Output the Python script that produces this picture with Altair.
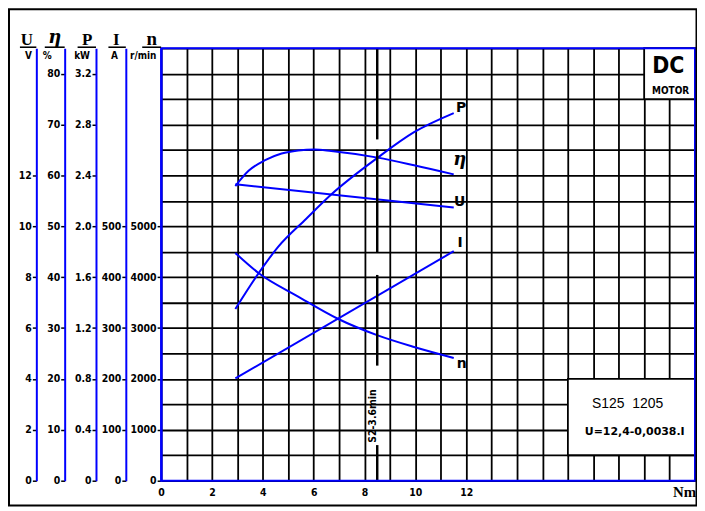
import altair as alt
import pandas as pd

# ---------------- data ----------------
torque_U = [2.92, 11.51]
U_vals = [11.65, 10.74]

torque_I = [2.92, 11.51]
I_vals = [201, 451]

torque_eta = [2.92, 3.44, 4.09, 4.74, 5.39, 6.04, 6.69, 8.52, 9.95, 11.51]
eta_vals = [57.9, 60.9, 63.0, 64.3, 64.9, 65.1, 64.8, 63.5, 62.0, 60.2]

torque_P = [2.92, 3.83, 4.61, 5.71, 6.69, 8.52, 9.95, 11.51]
P_vals = [1.35, 1.63, 1.84, 2.06, 2.25, 2.54, 2.74, 2.89]

torque_n = [2.92, 3.83, 5.39, 6.95, 8.52, 9.95, 11.51]
n_vals = [4475, 4083, 3620, 3183, 2856, 2628, 2413]

# axis ticks / domains
x_max = 21
x_grid = list(range(0, 22))
U_grid = list(range(0, 18))
U_ticks = [0, 2, 4, 6, 8, 10, 12]
eta_ticks = [0, 10, 20, 30, 40, 50, 60, 70, 80]
P_ticks = [0, 0.4, 0.8, 1.2, 1.6, 2.0, 2.4, 2.8, 3.2]
I_ticks = [0, 100, 200, 300, 400, 500]
n_ticks = [0, 1000, 2000, 3000, 4000, 5000]
U_max, eta_max, P_max, I_max, n_max = 17, 85, 3.4, 850, 8500

axis_names = ["U", "η", "P", "I", "n"]
axis_units = ["V", "%", "kW", "A", "r/min"]
x_unit = "Nm"

# S2 duty marker
s2_x = 8.5
s2_seg_top = [8500, 6510, 4044, 700]
s2_seg_bottom = [6708, 4495, 2262, 0]
s2_label = "S2-3.6min"
s2_label_n = 1270

# boxes (x in Nm, y in U-grid units)
box_x0 = [19, 16]
box_x1 = [21, 21]
box_y0 = [15, 1]
box_y1 = [17, 4]
model_text = "S125\u00a0\u00a01205"
formula_text = "U=12,4-0,0038.I"
logo_top = "DC"
logo_bottom = "MOTOR"

# ---------------- styling ----------------
BLUE = "#0000ff"
TF = "DejaVu Sans Condensed"
W, H = 537, 435
GW = 1.8

xscale = alt.Scale(domain=[0, x_max], nice=False, zero=False)
xaxis = alt.Axis(values=x_grid, grid=True, gridColor="black", gridWidth=GW, gridOpacity=1,
                 labelExpr="datum.value <= 12 && datum.value % 2 == 0 ? datum.label : ''",
                 ticks=False, domain=False, title="", labelFont=TF, labelFontWeight="bold",
                 labelFontSize=10.5, labelColor="black", labelPadding=7, labelOverlap=False,
                 labelFlush=False, zindex=0, format="d")


def X(field):
    return alt.X(field, scale=xscale, axis=xaxis)


def left_axis(ticks, offset, fmt="d", expr=""):
    kw = dict(orient="left", offset=offset, values=ticks, domainColor=BLUE, domainWidth=2,
              tickColor="black", tickWidth=1.5, tickSize=4, labelFont=TF, labelFontWeight="bold",
              labelFontSize=10.5, labelColor="black", labelPadding=1, title="", grid=False,
              labelOverlap=False, format=fmt)
    if expr:
        kw["labelExpr"] = expr
    return alt.Axis(**kw)


# ---- grid + boxes layer (U units) ----
ygrid_scale = alt.Scale(domain=[0, U_max], nice=False, zero=False)
grid_axis = alt.Axis(orient="left", values=U_grid, grid=True, gridColor="black", gridWidth=GW,
                     gridOpacity=1, labels=False, ticks=False, domain=False, title="", zindex=0)


def YG(field):
    return alt.Y(field, scale=ygrid_scale, axis=grid_axis)


boxes = pd.DataFrame({"x0": box_x0, "x1": box_x1, "y0": box_y0, "y1": box_y1})
box_rects = alt.Chart(boxes).mark_rect(fill="white", stroke="black", strokeWidth=GW).encode(
    x=X("x0:Q"), x2="x1:Q", y=YG("y0:Q"), y2="y1:Q")


def box_text(txt, x, y, font, size, weight="bold"):
    df = pd.DataFrame({"x": [x], "y": [y], "t": [txt]})
    return alt.Chart(df).mark_text(font=font, fontSize=size, fontWeight=weight, color="black",
                                   align="center", baseline="middle").encode(
        x=X("x:Q"), y=YG("y:Q"), text="t:N")


grid_layer = alt.layer(
    box_rects,
    box_text(model_text, 18.35, 3.02, "Liberation Sans", 14, "normal"),
    box_text(formula_text, 18.63, 1.90, "DejaVu Sans", 11),
    box_text(logo_top, 19.95, 16.3, TF, 23),
    box_text(logo_bottom, 20.04, 15.3, TF, 10),
)


# ---- curves ----
def curve(tq, vals, name, vmax, axis, interp, dx, dy, font, size, style="normal"):
    ysc = alt.Scale(domain=[0, vmax], nice=False, zero=False)
    df = pd.DataFrame({"T": tq, "v": vals})
    line = alt.Chart(df).mark_line(color=BLUE, strokeWidth=2, interpolate=interp).encode(
        x=X("T:Q"), y=alt.Y("v:Q", scale=ysc, axis=axis))
    lab = pd.DataFrame({"T": [tq[-1]], "v": [vals[-1]], "lab": [name]})
    text = alt.Chart(lab).mark_text(font=font, fontSize=size, fontWeight="bold", fontStyle=style,
                                    color="black", align="center", baseline="alphabetic",
                                    dx=dx, dy=dy).encode(
        x=X("T:Q"), y=alt.Y("v:Q", scale=ysc, axis=axis), text="lab:N")
    return alt.layer(line, text)


c_U = curve(torque_U, U_vals, "U", U_max, left_axis(U_ticks, 125.5), "linear", 6, -1.5, "DejaVu Sans", 14)
c_eta = curve(torque_eta, eta_vals, "η", eta_max, left_axis(eta_ticks, 97), "monotone", 6, -9,
              "DejaVu Serif", 18, "italic")
c_P = curve(torque_P, P_vals, "P", P_max,
            left_axis(P_ticks, 65.5, ".1f", "datum.value == 0 ? '0' : format(datum.value, '.1f')"),
            "monotone", 7.5, -1.5, "DejaVu Sans", 14)
c_I = curve(torque_I, I_vals, "I", I_max, left_axis(I_ticks, 35.5), "linear", 6.5, -4, "DejaVu Sans", 14)
c_n = curve(torque_n, n_vals, "n", n_max, left_axis(n_ticks, 0), "monotone", 8, 10, "DejaVu Sans", 14)

# ---- S2 marker (n units) ----
ns = alt.Scale(domain=[0, n_max], nice=False, zero=False)
s2df = pd.DataFrame({"x": [s2_x] * len(s2_seg_top), "a": s2_seg_top, "b": s2_seg_bottom})
s2_rule = alt.Chart(s2df).mark_rule(color="black", strokeWidth=2.5).encode(
    x=X("x:Q"), y=alt.Y("a:Q", scale=ns, axis=None), y2="b:Q")
s2_text = alt.Chart(pd.DataFrame({"x": [s2_x], "y": [s2_label_n], "t": [s2_label]})).mark_text(
    angle=270, align="center", baseline="bottom", dy=1, font=TF, fontSize=10.5, fontWeight="bold",
    color="black").encode(x=X("x:Q"), y=alt.Y("y:Q", scale=ns, axis=None), text="t:N")
s2_layer = alt.layer(s2_rule, s2_text)

# ---- blue plot border ----
border = alt.Chart(pd.DataFrame({"x0": [0], "x1": [x_max], "y0": [0], "y1": [U_max]})).mark_rect(
    fill="white", fillOpacity=0, stroke=BLUE, strokeWidth=2).encode(
    x=X("x0:Q"), x2="x1:Q",
    y=alt.Y("y0:Q", scale=alt.Scale(domain=[0, U_max], nice=False, zero=False), axis=None), y2="y1:Q")

# ---- decorations outside plot (pixel positions relative to plot origin) ----
one = pd.DataFrame({"k": [0]})


def ptext(txt, px, py, size, font, style="normal", baseline="middle", align="center"):
    return alt.Chart(one).mark_text(text=txt, font=font, fontSize=size, fontWeight="bold",
                                    fontStyle=style, align=align, baseline=baseline,
                                    color="black").encode(x=alt.value(px), y=alt.value(py))


def prule(x1, x2, y, color="black", w=1.6):
    return alt.Chart(one).mark_rule(color=color, strokeWidth=w).encode(
        x=alt.value(x1), x2=alt.value(x2), y=alt.value(y))


hdr_x = [-135, -107, -74.5, -45, -9.5]
hdr_y = [-3, -5, -3, -3, -3]
hdr_font = ["Liberation Serif", "DejaVu Serif", "Liberation Serif", "Liberation Serif", "Liberation Serif"]
hdr_size = [17, 18, 17, 17, 19]
hdr_style = ["normal", "italic", "normal", "normal", "normal"]
ul_x = [(-142, -125.5), (-117, -97), (-84, -65.5), (-53, -35.5), (-19, 0)]
unit_x = [-133.5, -114.5, -79.5, -47, -18]

decor = []
for i, nm in enumerate(axis_names):
    decor.append(ptext(nm, hdr_x[i], hdr_y[i], hdr_size[i], hdr_font[i], hdr_style[i], "alphabetic"))
    decor.append(prule(ul_x[i][0], ul_x[i][1], -1))
    decor.append(ptext(axis_units[i], unit_x[i], 7.7, 10, TF))
decor.append(ptext(x_unit, 526.5, 446, 15, "Liberation Serif"))
frame = alt.Chart(one).mark_rect(fill="white", fillOpacity=0, stroke="black", strokeWidth=2).encode(
    x=alt.value(-153), x2=alt.value(538.5), y=alt.value(-39.3), y2=alt.value(460))
decor.append(frame)

chart = alt.layer(grid_layer, c_U, c_eta, c_P, c_I, c_n, s2_layer, border, *decor).resolve_scale(
    y="independent").properties(
    width=W, height=H,
    padding={"left": 154, "top": 39, "right": 2, "bottom": 26},
    autosize=alt.AutoSizeParams(type="none"),
).configure_view(strokeWidth=0)

chart.save("out.html", embed_options={"renderer": "svg", "actions": False})
